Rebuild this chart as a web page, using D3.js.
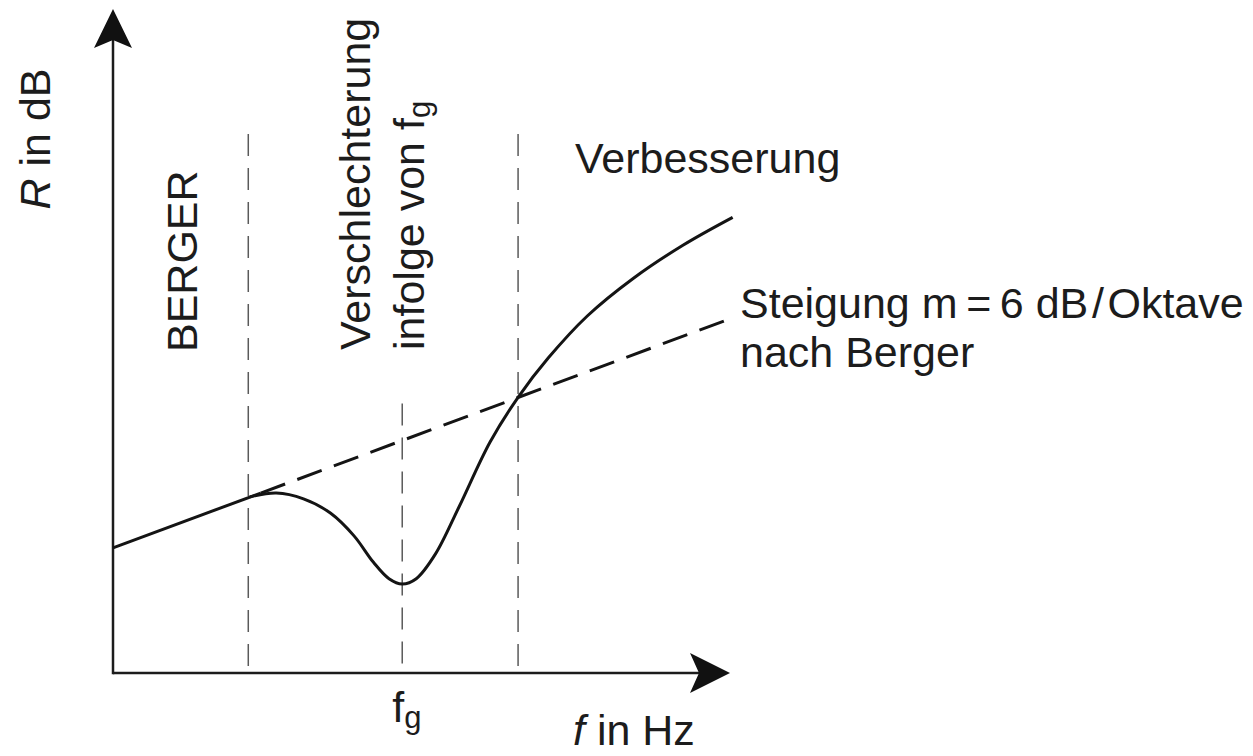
<!DOCTYPE html>
<html lang="de">
<head>
<meta charset="UTF-8">
<title>Schalldämmmaß R über f</title>
<script src="https://cdn.jsdelivr.net/npm/d3@7"></script>
<style>
  body { margin: 0; background: #fff; }
  text { font-family: "Liberation Sans", Arial, sans-serif; fill: #1c1c1c; }
  .axis { stroke: #1c1c1c; stroke-width: 2.5px; fill: none; }
  .curve { fill: none; stroke: #141414; stroke-width: 3px; }
  .berger { fill: none; stroke: #141414; stroke-width: 3px; }
  .berger.dash { stroke-dasharray: 26 13; }
  .guide { stroke: #5a5a5a; stroke-width: 1.5px; stroke-dasharray: 22 12; }
</style>
</head>
<body>
<script>
// frequency in octaves, R in dB (schematic)
var bergerSolidOct = [0, 1.9];
var bergerSolidDb  = [26, 37.4];
var bergerDashOct  = [1.9, 8.0];
var bergerDashDb   = [37.4, 74];

var curveOct = [1.76, 2.10, 2.45, 2.80, 3.10, 3.35, 3.55, 3.72, 3.90, 4.15, 4.45, 4.85, 5.21, 5.60, 6.10, 6.69, 7.33, 7.97];
var curveDb  = [36.6, 37.4, 36.2, 33.2, 28.5, 23.0, 19.6, 18.5, 19.6, 24.8, 34.5, 48.0, 57.3, 65.5, 74.2, 82.0, 88.9, 94.7];

// dashed region borders: position (oct) and top (dB)
var guideOct = [1.74, 3.72, 5.21];
var guideTop = [112, 56, 112];
var fg = 3.72;

var width = 1253, height = 756;

var x = d3.scaleLinear().domain([0, 8]).range([113, 735]);
var y = d3.scaleLinear().domain([0, 138]).range([673, 9]);

var svg = d3.select("body").append("svg")
    .attr("width", width)
    .attr("height", height);

var line = d3.line()
    .x(function(d) { return x(d[0]); })
    .y(function(d) { return y(d[1]); });

// region borders
svg.selectAll(".guide")
    .data(guideOct)
    .enter().append("line")
    .attr("class", "guide")
    .attr("x1", function(d) { return x(d); })
    .attr("x2", function(d) { return x(d); })
    .attr("y1", function(d, i) { return y(guideTop[i]); })
    .attr("y2", y(0));

// axes with arrows
var x0 = x(0), y0 = y(0);
var xTip = 730, yTip = y(138);
svg.append("line").attr("class", "axis")
    .attr("x1", x0).attr("y1", y0).attr("x2", xTip - 12).attr("y2", y0);
svg.append("line").attr("class", "axis")
    .attr("x1", x0).attr("y1", y0 + 1.2).attr("x2", x0).attr("y2", yTip + 12);

svg.append("path")
    .attr("d", "M" + xTip + "," + y0 + " L" + (xTip - 40) + "," + (y0 - 20) +
               " L" + (xTip - 31) + "," + y0 + " L" + (xTip - 40) + "," + (y0 + 20) + "Z")
    .attr("fill", "#111");
svg.append("path")
    .attr("d", "M" + x0 + "," + yTip + " L" + (x0 - 19) + "," + (yTip + 39) +
               " L" + x0 + "," + (yTip + 31) + " L" + (x0 + 19) + "," + (yTip + 39) + "Z")
    .attr("fill", "#111");

// Berger line
svg.append("path")
    .datum(d3.zip(bergerSolidOct, bergerSolidDb))
    .attr("class", "berger")
    .attr("d", line);
svg.append("path")
    .datum(d3.zip(bergerDashOct, bergerDashDb))
    .attr("class", "berger dash")
    .attr("d", line);

// measured curve
svg.append("path")
    .datum(d3.zip(curveOct, curveDb))
    .attr("class", "curve")
    .attr("d", line.curve(d3.curveCatmullRom.alpha(0.5)));

var fs = 43;

// axis labels
var ry = svg.append("text")
    .attr("transform", "translate(50,139) rotate(-90)")
    .attr("text-anchor", "middle")
    .style("font-size", fs + "px");
ry.append("tspan").style("font-style", "italic").text("R");
ry.append("tspan").text(" in dB");

var fx = svg.append("text")
    .attr("x", 573).attr("y", 745)
    .style("font-size", fs + "px");
fx.append("tspan").style("font-style", "italic").text("f");
fx.append("tspan").text(" in Hz");

// f_g under the axis
var fgl = svg.append("text")
    .attr("x", x(fg) - 10).attr("y", 722)
    .style("font-size", fs + "px");
fgl.append("tspan").text("f");
fgl.append("tspan").attr("dy", 6).style("font-size", "31px").text("g");

// region labels (rotated)
svg.append("text")
    .attr("transform", "translate(197,352) rotate(-90)")
    .style("font-size", fs + "px")
    .text("BERGER");

svg.append("text")
    .attr("transform", "translate(370,350) rotate(-90)")
    .style("font-size", fs + "px")
    .text("Verschlechterung");

var inf = svg.append("text")
    .attr("transform", "translate(424,350) rotate(-90)")
    .style("font-size", fs + "px");
inf.append("tspan").text("infolge von f");
inf.append("tspan").attr("dy", 6).style("font-size", "31px").text("g");

svg.append("text")
    .attr("x", 575).attr("y", 173)
    .style("font-size", fs + "px")
    .text("Verbesserung");

svg.append("text")
    .attr("x", 740).attr("y", 318)
    .style("font-size", fs + "px")
    .text("Steigung m\u2009=\u20096 dB\u200A/\u200AOktave");

svg.append("text")
    .attr("x", 740).attr("y", 367)
    .style("font-size", fs + "px")
    .text("nach Berger");
</script>
</body>
</html>
